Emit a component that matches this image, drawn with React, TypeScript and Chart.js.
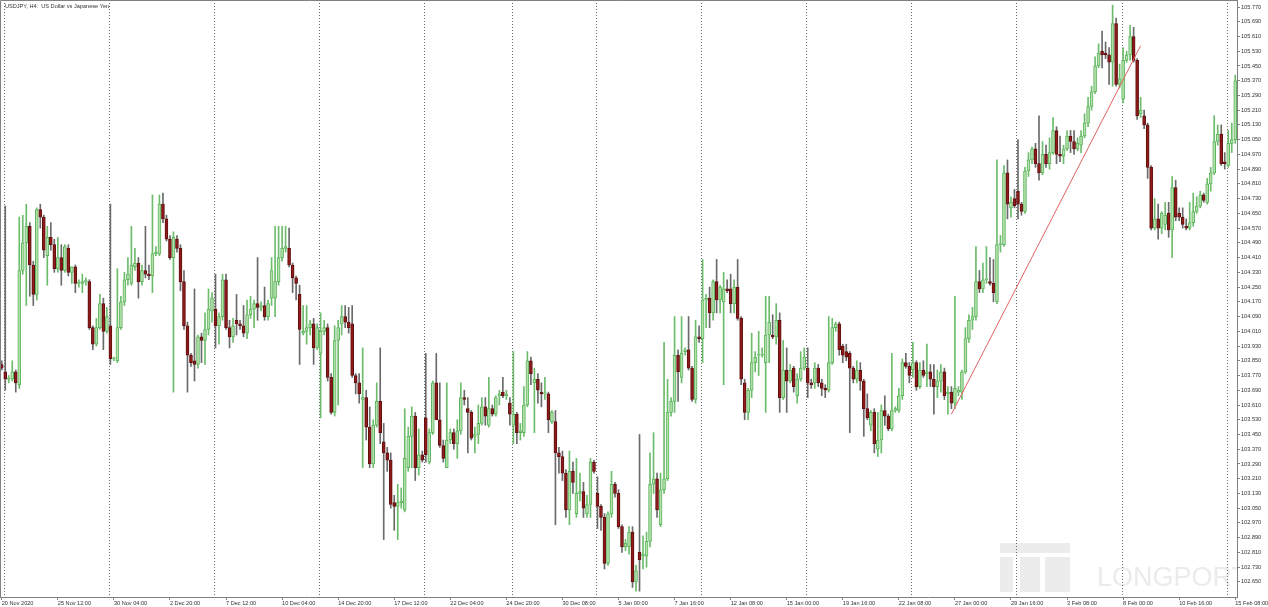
import React, { useEffect, useRef } from 'react';
import { Chart, registerables } from 'chart.js';

Chart.register(...registerables);

// ---- data (USDJPY H4 candles, bar 0 = 20 Nov 2020 20:00) ----
const OPEN = [
  103.83, 103.79, 103.75, 103.75, 103.79, 103.72, 104.34, 104.49, 104.58, 104.37,
  104.21, 104.67, 104.63, 104.42, 104.52, 104.48, 104.35, 104.41, 104.34, 104.46,
  104.33, 104.36, 104.27, 104.27, 104.28, 104.28, 104.03, 103.94, 104.03, 104.16,
  104.01, 104.04, 103.86, 103.85, 104.03, 104.17, 104.29, 104.27, 104.36, 104.38,
  104.28, 104.34, 104.32, 104.31, 104.43, 104.43, 104.70, 104.62, 104.51, 104.41,
  104.51, 104.46, 104.28, 104.04, 103.88, 103.85, 103.83, 103.98, 103.96, 104.02,
  104.12, 104.13, 104.04, 104.09, 104.29, 104.03, 103.98, 104.07, 104.05, 104.04,
  104.00, 104.10, 104.13, 104.16, 104.14, 104.15, 104.09, 104.19, 104.19, 104.28,
  104.41, 104.46, 104.46, 104.37, 104.30, 104.21, 104.00, 104.01, 104.03, 104.05,
  103.92, 103.89, 104.01, 104.03, 103.76, 103.57, 103.96, 104.05, 104.09, 104.06,
  104.05, 103.77, 103.73, 103.64, 103.65, 103.49, 103.29, 103.50, 103.63, 103.41,
  103.35, 103.31, 103.08, 103.06, 103.08, 103.04, 103.27, 103.44, 103.55, 103.27,
  103.34, 103.54, 103.30, 103.46, 103.73, 103.53, 103.39, 103.27, 103.42, 103.46,
  103.40, 103.47, 103.65, 103.59, 103.57, 103.44, 103.45, 103.51, 103.60, 103.50,
  103.59, 103.56, 103.66, 103.68, 103.66, 103.62, 103.50, 103.56, 103.46, 103.46,
  103.61, 103.85, 103.73, 103.75, 103.68, 103.67, 103.67, 103.52, 103.52, 103.35,
  103.33, 103.24, 103.04, 103.25, 103.02, 103.13, 103.14, 103.02, 103.07, 103.30,
  103.13, 103.06, 103.00, 102.75, 103.02, 103.18, 103.13, 102.95, 102.84, 102.84,
  102.92, 102.65, 102.81, 102.79, 102.79, 102.87, 103.18, 103.21, 102.96, 103.15,
  103.21, 103.57, 103.63, 103.88, 103.76, 103.90, 103.91, 103.81, 103.64, 103.98,
  103.97, 104.18, 104.19, 104.11, 104.28, 104.18, 104.17, 104.24, 104.24, 104.16,
  104.25, 104.08, 103.73, 103.57, 103.69, 103.84, 103.88, 103.88, 103.84, 103.99,
  103.99, 103.98, 104.07, 103.65, 103.80, 103.74, 103.81, 103.66, 103.75, 103.81,
  103.81, 103.73, 103.73, 103.81, 103.73, 103.70, 103.69, 103.84, 104.03, 104.05,
  103.93, 103.90, 103.89, 103.81, 103.75, 103.80, 103.74, 103.59, 103.50, 103.57,
  103.37, 103.42, 103.58, 103.55, 103.48, 103.58, 103.58, 103.66, 103.84, 103.82,
  103.80, 103.84, 103.71, 103.80, 103.78, 103.79, 103.75, 103.71, 103.74, 103.79,
  103.67, 103.68, 103.62, 103.68, 103.68, 103.79, 103.97, 104.07, 104.09, 104.28,
  104.24, 104.29, 104.28, 104.27, 104.17, 104.48, 104.48, 104.87, 104.68, 104.73,
  104.77, 104.70, 104.66, 104.88, 104.94, 105.00, 104.92, 104.87, 104.97, 104.92,
  104.98, 105.10, 104.97, 104.96, 105.00, 105.07, 105.04, 105.00, 105.02, 105.07,
  105.14, 105.23, 105.31, 105.45, 105.53, 105.52, 105.51, 105.47, 105.68, 105.35,
  105.27, 105.48, 105.51, 105.61, 105.48, 105.19, 105.18, 105.13, 104.90, 104.57,
  104.62, 104.57, 104.59, 104.65, 104.56, 104.79, 104.65, 104.63, 104.58, 104.57,
  104.60, 104.66, 104.69, 104.75, 104.71, 104.81, 104.87, 105.04, 105.08, 104.93,
  104.91, 105.03, 105.05,
];

const HIGH = [
  103.85, 104.69, 103.77, 103.85, 103.80, 104.63, 104.64, 104.70, 104.60, 104.39,
  104.68, 104.70, 104.64, 104.58, 104.60, 104.51, 104.52, 104.48, 104.48, 104.48,
  104.36, 104.37, 104.29, 104.32, 104.30, 104.29, 104.04, 104.08, 104.21, 104.19,
  104.14, 104.70, 103.87, 104.35, 104.20, 104.33, 104.41, 104.58, 104.46, 104.41,
  104.37, 104.58, 104.37, 104.75, 104.47, 104.75, 104.76, 104.64, 104.53, 104.55,
  104.53, 104.48, 104.34, 104.06, 103.89, 104.24, 103.99, 104.00, 104.11, 104.24,
  104.22, 104.32, 104.11, 104.32, 104.32, 104.07, 104.08, 104.21, 104.07, 104.15,
  104.18, 104.20, 104.18, 104.41, 104.17, 104.25, 104.18, 104.41, 104.58, 104.58,
  104.58, 104.58, 104.57, 104.38, 104.31, 104.26, 104.15, 104.15, 104.07, 104.08,
  104.05, 104.11, 104.07, 104.05, 103.78, 104.04, 104.07, 104.15, 104.15, 104.14,
  104.15, 103.78, 103.78, 103.92, 103.69, 103.60, 103.53, 103.73, 103.92, 103.51,
  103.38, 103.35, 103.12, 103.18, 103.16, 103.59, 103.49, 103.60, 103.57, 103.48,
  103.36, 103.89, 103.48, 103.74, 103.89, 103.73, 103.42, 103.73, 103.48, 103.48,
  103.53, 103.73, 103.69, 103.65, 103.58, 103.49, 103.61, 103.65, 103.65, 103.76,
  103.61, 103.66, 103.69, 103.76, 103.69, 103.65, 103.90, 103.57, 103.51, 103.71,
  103.90, 103.87, 103.81, 103.78, 103.73, 103.76, 103.68, 103.58, 103.58, 103.38,
  103.36, 103.26, 103.36, 103.30, 103.32, 103.24, 103.19, 103.12, 103.32, 103.31,
  103.22, 103.07, 103.02, 103.03, 103.25, 103.19, 103.15, 102.96, 102.88, 102.95,
  102.95, 102.74, 103.45, 102.90, 102.92, 103.35, 103.46, 103.24, 103.24, 103.95,
  103.75, 103.65, 104.09, 103.91, 104.09, 103.92, 104.09, 103.82, 104.07, 104.04,
  104.40, 104.21, 104.25, 104.29, 104.40, 104.26, 104.33, 104.29, 104.32, 104.29,
  104.40, 104.09, 103.75, 103.70, 104.00, 103.90, 104.01, 103.92, 104.20, 104.20,
  104.10, 104.16, 104.11, 103.96, 103.92, 103.83, 103.82, 103.78, 103.90, 103.92,
  103.92, 103.75, 103.84, 103.83, 103.75, 103.72, 104.09, 104.08, 104.06, 104.06,
  103.94, 103.94, 103.90, 103.82, 103.85, 103.84, 103.75, 103.67, 103.58, 103.59,
  103.57, 103.61, 103.66, 103.56, 103.89, 103.60, 103.70, 103.86, 103.89, 103.84,
  103.95, 103.85, 103.84, 103.85, 103.94, 103.83, 103.83, 103.80, 103.83, 103.81,
  103.71, 103.71, 104.20, 103.71, 103.80, 104.03, 104.10, 104.14, 104.47, 104.34,
  104.38, 104.47, 104.41, 104.40, 104.94, 104.53, 104.91, 104.94, 104.74, 104.78,
  105.05, 104.71, 104.90, 104.98, 105.01, 105.03, 105.18, 105.04, 105.02, 105.06,
  105.17, 105.12, 105.07, 105.02, 105.10, 105.10, 105.10, 105.06, 105.10, 105.19,
  105.28, 105.34, 105.50, 105.57, 105.64, 105.58, 105.55, 105.78, 105.71, 105.46,
  105.55, 105.53, 105.67, 105.66, 105.49, 105.28, 105.21, 105.14, 104.91, 104.73,
  104.70, 104.66, 104.71, 104.71, 104.85, 104.83, 104.68, 104.68, 104.62, 104.71,
  104.76, 104.74, 104.77, 104.76, 104.84, 104.90, 105.18, 105.13, 105.13, 104.98,
  105.10, 105.14, 105.40,
];

const LOW = [
  103.80, 103.69, 103.73, 103.74, 103.68, 103.70, 104.32, 104.15, 104.20, 104.15,
  104.18, 104.57, 104.41, 104.26, 104.45, 104.33, 104.33, 104.26, 104.33, 104.31,
  104.27, 104.22, 104.25, 104.22, 104.26, 104.02, 103.91, 103.93, 104.02, 103.91,
  104.00, 103.83, 103.85, 103.84, 104.02, 104.15, 104.26, 104.26, 104.34, 104.19,
  104.26, 104.30, 104.29, 104.22, 104.42, 104.42, 104.60, 104.50, 104.40, 103.68,
  104.44, 104.23, 104.02, 103.68, 103.82, 103.74, 103.81, 103.84, 103.83, 103.99,
  104.06, 103.92, 103.94, 104.07, 104.02, 103.92, 103.95, 103.99, 104.02, 103.98,
  103.97, 104.08, 104.03, 104.07, 104.12, 104.07, 104.07, 104.15, 104.09, 104.26,
  104.39, 104.44, 104.36, 104.22, 104.18, 103.83, 103.99, 103.94, 103.99, 103.83,
  103.91, 103.54, 103.99, 103.74, 103.56, 103.55, 103.61, 103.99, 104.03, 104.00,
  103.76, 103.67, 103.62, 103.27, 103.42, 103.27, 103.27, 103.49, 103.40, 102.88,
  103.25, 103.05, 102.93, 102.88, 103.05, 103.03, 103.25, 103.27, 103.20, 103.23,
  103.30, 103.30, 103.29, 103.45, 103.53, 103.38, 103.30, 103.27, 103.40, 103.37,
  103.32, 103.45, 103.61, 103.35, 103.42, 103.35, 103.40, 103.50, 103.50, 103.49,
  103.55, 103.55, 103.61, 103.65, 103.64, 103.50, 103.40, 103.40, 103.42, 103.44,
  103.60, 103.72, 103.46, 103.62, 103.60, 103.64, 103.46, 103.51, 102.96, 103.24,
  103.20, 103.00, 102.96, 103.13, 103.00, 103.09, 103.00, 103.00, 103.00, 103.24,
  102.94, 102.93, 102.72, 102.74, 103.00, 103.11, 102.94, 102.81, 102.82, 102.80,
  102.62, 102.60, 102.60, 102.72, 102.73, 102.84, 103.13, 103.00, 102.95, 103.13,
  103.20, 103.55, 103.57, 103.63, 103.73, 103.88, 103.80, 103.63, 103.62, 103.95,
  103.84, 104.03, 104.03, 104.07, 104.11, 104.11, 103.72, 104.22, 104.11, 104.11,
  104.07, 103.72, 103.53, 103.53, 103.65, 103.79, 103.77, 103.87, 103.57, 103.84,
  103.97, 103.94, 103.57, 103.64, 103.57, 103.73, 103.68, 103.62, 103.74, 103.80,
  103.65, 103.70, 103.70, 103.71, 103.66, 103.65, 103.68, 103.83, 104.01, 103.88,
  103.84, 103.85, 103.46, 103.73, 103.73, 103.69, 103.44, 103.53, 103.47, 103.35,
  103.33, 103.35, 103.50, 103.47, 103.47, 103.57, 103.57, 103.64, 103.81, 103.73,
  103.76, 103.69, 103.70, 103.76, 103.71, 103.71, 103.56, 103.65, 103.68, 103.64,
  103.56, 103.59, 103.59, 103.66, 103.64, 103.78, 103.95, 104.02, 104.07, 104.22,
  104.22, 104.27, 104.26, 104.17, 104.16, 104.44, 104.47, 104.62, 104.63, 104.68,
  104.62, 104.64, 104.65, 104.85, 104.92, 104.90, 104.83, 104.86, 104.90, 104.89,
  104.97, 104.92, 104.93, 104.92, 104.99, 104.98, 104.97, 104.99, 104.98, 105.06,
  105.12, 105.21, 105.30, 105.44, 105.44, 105.49, 105.35, 105.34, 105.34, 105.33,
  105.25, 105.47, 105.48, 105.47, 105.16, 105.17, 105.11, 104.84, 104.56, 104.56,
  104.51, 104.54, 104.56, 104.52, 104.41, 104.61, 104.61, 104.57, 104.56, 104.56,
  104.58, 104.65, 104.68, 104.71, 104.70, 104.77, 104.86, 105.02, 104.91, 104.89,
  104.90, 104.98, 105.03,
];

const CLOSE = [
  103.81, 103.75, 103.75, 103.79, 103.73, 104.34, 104.49, 104.58, 104.37, 104.21,
  104.67, 104.63, 104.45, 104.52, 104.48, 104.35, 104.41, 104.34, 104.47, 104.33,
  104.36, 104.27, 104.27, 104.28, 104.28, 104.03, 103.94, 104.03, 104.16, 104.01,
  104.09, 103.86, 103.86, 104.03, 104.17, 104.29, 104.32, 104.37, 104.38, 104.28,
  104.34, 104.32, 104.31, 104.43, 104.44, 104.70, 104.62, 104.51, 104.41, 104.52,
  104.46, 104.28, 104.04, 103.88, 103.84, 103.83, 103.98, 103.96, 104.02, 104.13,
  104.19, 104.04, 104.09, 104.29, 104.03, 103.98, 104.04, 104.05, 104.04, 104.00,
  104.10, 104.13, 104.16, 104.14, 104.15, 104.09, 104.16, 104.34, 104.28, 104.41,
  104.46, 104.47, 104.37, 104.30, 104.27, 104.02, 104.01, 104.03, 104.05, 103.92,
  104.03, 104.01, 104.03, 103.76, 103.57, 103.96, 104.03, 104.09, 104.06, 104.03,
  103.77, 103.73, 103.67, 103.65, 103.49, 103.29, 103.50, 103.63, 103.46, 103.35,
  103.31, 103.07, 103.06, 103.08, 103.09, 103.32, 103.44, 103.55, 103.27, 103.34,
  103.31, 103.34, 103.46, 103.73, 103.53, 103.39, 103.32, 103.42, 103.46, 103.40,
  103.47, 103.65, 103.64, 103.57, 103.43, 103.45, 103.51, 103.60, 103.55, 103.59,
  103.56, 103.65, 103.67, 103.66, 103.67, 103.56, 103.56, 103.46, 103.47, 103.61,
  103.85, 103.78, 103.75, 103.69, 103.67, 103.67, 103.53, 103.57, 103.35, 103.33,
  103.24, 103.04, 103.25, 103.19, 103.13, 103.14, 103.05, 103.07, 103.30, 103.25,
  103.06, 103.00, 102.75, 103.02, 103.18, 103.13, 102.95, 102.84, 102.86, 102.92,
  102.65, 102.71, 102.77, 102.80, 102.87, 103.18, 103.21, 103.04, 103.15, 103.21,
  103.57, 103.63, 103.88, 103.79, 103.89, 103.91, 103.81, 103.64, 103.98, 103.97,
  104.18, 104.19, 104.11, 104.28, 104.18, 104.25, 104.24, 104.23, 104.16, 104.25,
  104.08, 103.75, 103.57, 103.69, 103.84, 103.87, 103.88, 103.88, 103.99, 104.06,
  103.98, 104.07, 103.65, 103.80, 103.74, 103.80, 103.71, 103.75, 103.81, 103.87,
  103.73, 103.72, 103.81, 103.73, 103.70, 103.69, 103.84, 104.03, 104.05, 103.91,
  103.88, 103.87, 103.81, 103.75, 103.80, 103.74, 103.59, 103.54, 103.57, 103.40,
  103.42, 103.58, 103.55, 103.48, 103.58, 103.59, 103.66, 103.84, 103.82, 103.77,
  103.84, 103.71, 103.80, 103.77, 103.79, 103.75, 103.71, 103.74, 103.79, 103.66,
  103.68, 103.62, 103.70, 103.69, 103.79, 103.97, 104.07, 104.09, 104.28, 104.24,
  104.29, 104.29, 104.27, 104.22, 104.48, 104.48, 104.87, 104.70, 104.71, 104.69,
  104.70, 104.66, 104.88, 104.94, 105.00, 104.92, 104.87, 104.97, 104.92, 104.98,
  105.10, 104.97, 104.96, 105.00, 105.07, 105.04, 105.00, 105.03, 105.07, 105.14,
  105.23, 105.31, 105.45, 105.52, 105.51, 105.51, 105.47, 105.68, 105.35, 105.38,
  105.48, 105.51, 105.61, 105.48, 105.18, 105.21, 105.13, 104.90, 104.57, 104.62,
  104.57, 104.65, 104.64, 104.56, 104.79, 104.63, 104.63, 104.59, 104.57, 104.60,
  104.66, 104.69, 104.75, 104.72, 104.81, 104.87, 105.04, 105.08, 104.92, 104.92,
  105.03, 105.05, 105.37,
];

// time-axis labels, one every 16 bars starting at bar 0
const TICK_LABELS = [
  '20 Nov 2020', '25 Nov 12:00', '30 Nov 04:00', '2 Dec 20:00', '7 Dec 12:00',
  '10 Dec 04:00', '14 Dec 20:00', '17 Dec 12:00', '22 Dec 04:00', '24 Dec 20:00',
  '30 Dec 08:00', '5 Jan 00:00', '7 Jan 16:00', '12 Jan 08:00', '15 Jan 00:00',
  '19 Jan 16:00', '22 Jan 08:00', '27 Jan 00:00', '29 Jan 16:00', '3 Feb 08:00',
  '8 Feb 00:00', '10 Feb 16:00', '15 Feb 08:00',
];
const TICK_EVERY = 16;

// bars that open a new week (Monday 00:00) -> dotted period separators
const WEEK_START_BARS = [1, 31, 61, 91, 121, 146, 170, 200, 230, 260, 290, 320, 350];

const PRICE_TICKS = [
  105.77, 105.69, 105.61, 105.53, 105.45, 105.37, 105.29, 105.21, 105.13, 105.05,
  104.97, 104.89, 104.81, 104.73, 104.65, 104.57, 104.49, 104.41, 104.33, 104.25,
  104.17, 104.09, 104.01, 103.93, 103.85, 103.77, 103.69, 103.61, 103.53, 103.45,
  103.37, 103.29, 103.21, 103.13, 103.05, 102.97, 102.89, 102.81, 102.73, 102.65,
];
const PRICE_MIN = 102.568;
const PRICE_MAX = 105.808;

const TREND_BARS = [271, 325];
const TREND_PRICES = [103.56, 105.56];

const TITLE = 'USDJPY, H4:  US Dollar vs Japanese Yen';
const WATERMARK = 'LONGPORT';

// ---- styles ----
const FONT = '"Liberation Sans", Arial, sans-serif';
const BULL_FILL = '#b3e0ab';
const BULL_EDGE = '#5db55d';
const BEAR_FILL = '#8e1a1a';
const BEAR_EDGE = '#601010';
const BULL_WICK = '#6cbc6c';
const BEAR_WICK = '#6a6a6a';
const AXIS = '#808080';
const TEXT = '#333333';

const decorPlugin = {
  id: 'mt4decor',
  beforeDatasetsDraw(chart: any) {
    const { ctx, chartArea: a, scales } = chart;
    const xs = scales.x;
    ctx.save();
    ctx.beginPath();
    ctx.rect(a.left, a.top, a.right - a.left, a.bottom - a.top);
    ctx.clip();
    // watermark logo + text
    ctx.fillStyle = '#ececec';
    ctx.fillRect(1000, 543, 70, 10);
    ctx.fillRect(1000, 557, 13, 35);
    ctx.fillRect(1020, 557, 20, 35);
    ctx.fillRect(1045, 557, 25, 35);
    ctx.fillStyle = '#ebebeb';
    ctx.font = '27px ' + FONT;
    ctx.textBaseline = 'alphabetic';
    ctx.textAlign = 'left';
    ctx.fillText(WATERMARK, 1097, 586);
    // week separators
    ctx.strokeStyle = '#6a6a6a';
    ctx.lineWidth = 1;
    ctx.setLineDash([1, 2]);
    for (const b of WEEK_START_BARS) {
      const px = Math.round(xs.getPixelForValue(b) - 1.5) + 0.5;
      ctx.beginPath();
      ctx.moveTo(px, a.top);
      ctx.lineTo(px, a.bottom);
      ctx.stroke();
    }
    ctx.restore();
  },
  afterDraw(chart: any) {
    const { ctx, chartArea: a } = chart;
    ctx.save();
    ctx.strokeStyle = AXIS;
    ctx.lineWidth = 1;
    ctx.beginPath();
    ctx.moveTo(a.left + 0.5, a.bottom);
    ctx.lineTo(a.left + 0.5, a.top + 0.5);
    ctx.lineTo(a.right, a.top + 0.5);
    ctx.stroke();
    ctx.fillStyle = TEXT;
    ctx.font = '5.6px ' + FONT;
    ctx.textBaseline = 'alphabetic';
    ctx.textAlign = 'left';
    ctx.fillText(TITLE, 5, 8);
    ctx.restore();
  },
};

export default function App() {
  const ref = useRef<HTMLCanvasElement | null>(null);

  useEffect(() => {
    document.body.style.margin = '0';
    const canvas = ref.current;
    if (!canvas) return;

    const labels = OPEN.map((_, i) => String(i));
    const bull = OPEN.map((o, i) => CLOSE[i] >= o);
    const trend = OPEN.map((_, i) => {
      const k = TREND_BARS.indexOf(i);
      return k >= 0 ? TREND_PRICES[k] : null;
    });

    const chart = new Chart(canvas, {
      type: 'bar',
      data: {
        labels,
        datasets: [
          {
            type: 'line',
            label: 'trend',
            data: trend,
            spanGaps: true,
            borderColor: '#e06262',
            borderWidth: 1,
            pointRadius: 0,
            order: 0,
          } as any,
          {
            label: 'body',
            data: OPEN.map((o, i) => [o, CLOSE[i]]),
            backgroundColor: bull.map((b) => (b ? BULL_FILL : BEAR_FILL)),
            borderColor: bull.map((b) => (b ? BULL_EDGE : BEAR_EDGE)),
            borderWidth: 1,
            borderSkipped: false,
            barThickness: 3,
            minBarLength: 1,
            grouped: false,
            order: 1,
          } as any,
          {
            label: 'wick',
            data: LOW.map((l, i) => [l, HIGH[i]]),
            backgroundColor: bull.map((b) => (b ? BULL_WICK : BEAR_WICK)),
            borderWidth: 0,
            barThickness: 1,
            grouped: false,
            order: 2,
          } as any,
        ],
      },
      options: {
        responsive: false,
        maintainAspectRatio: false,
        animation: false,
        layout: { padding: 0 },
        events: [],
        plugins: {
          legend: { display: false },
          tooltip: { enabled: false },
          title: { display: false },
        },
        scales: {
          x: {
            type: 'category',
            offset: true,
            grid: {
              display: true,
              drawOnChartArea: false,
              drawTicks: true,
              tickLength: 3,
              color: AXIS,
              offset: false,
            },
            border: { display: true, color: AXIS, width: 1 },
            ticks: {
              autoSkip: false,
              maxRotation: 0,
              minRotation: 0,
              align: 'start',
              padding: 0,
              color: TEXT,
              font: { family: FONT, size: 5.6 },
              callback: (_v: any, idx: number) => TICK_LABELS[idx] ?? '',
            },
            afterBuildTicks: (s: any) => {
              s.ticks = TICK_LABELS.map((_, k) => ({ value: k * TICK_EVERY }));
            },
            afterFit: (s: any) => {
              s.height = 10;
              s.paddingLeft = 0;
              s.paddingRight = 0;
              s.paddingTop = 0;
              s.paddingBottom = 0;
            },
          },
          y: {
            type: 'linear',
            position: 'right',
            min: PRICE_MIN,
            max: PRICE_MAX,
            bounds: 'data',
            grid: {
              display: true,
              drawOnChartArea: false,
              drawTicks: true,
              tickLength: 3,
              color: AXIS,
            },
            border: { display: true, color: AXIS, width: 1 },
            ticks: {
              padding: 1,
              color: TEXT,
              font: { family: FONT, size: 5.6 },
              callback: (v: any) => Number(v).toFixed(3),
            },
            afterBuildTicks: (s: any) => {
              s.ticks = PRICE_TICKS.map((v) => ({ value: v }));
            },
            afterFit: (s: any) => {
              s.width = 31;
              s.paddingTop = 0;
              s.paddingBottom = 0;
              s.paddingLeft = 0;
              s.paddingRight = 0;
            },
          },
        },
      } as any,
      plugins: [decorPlugin],
    } as any);

    return () => chart.destroy();
  }, []);

  return (
    <div
      style={{
        position: 'fixed',
        left: 0,
        top: 0,
        width: 1268,
        height: 607,
        background: '#ffffff',
      }}
    >
      <canvas
        ref={ref}
        width={1268}
        height={607}
        style={{ display: 'block', width: 1268, height: 607 }}
      />
    </div>
  );
}
